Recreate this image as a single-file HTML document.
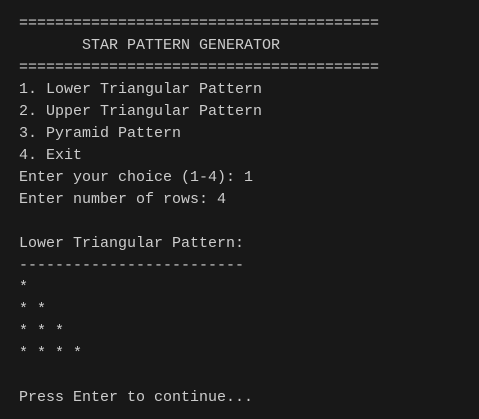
<!DOCTYPE html>
<html><head><meta charset="utf-8"><style>
html,body{margin:0;padding:0;background:#181818;width:479px;height:419px;overflow:hidden}
pre{margin:0;position:absolute;left:19px;top:13px;font-family:"Liberation Mono","DejaVu Sans Mono",monospace;font-size:15px;line-height:22px;color:#cccccc}
</style></head><body><pre>========================================
       STAR PATTERN GENERATOR
========================================
1. Lower Triangular Pattern
2. Upper Triangular Pattern
3. Pyramid Pattern
4. Exit
Enter your choice (1-4): 1
Enter number of rows: 4

Lower Triangular Pattern:
-------------------------
*
* *
* * *
* * * *

Press Enter to continue...</pre></body></html>
